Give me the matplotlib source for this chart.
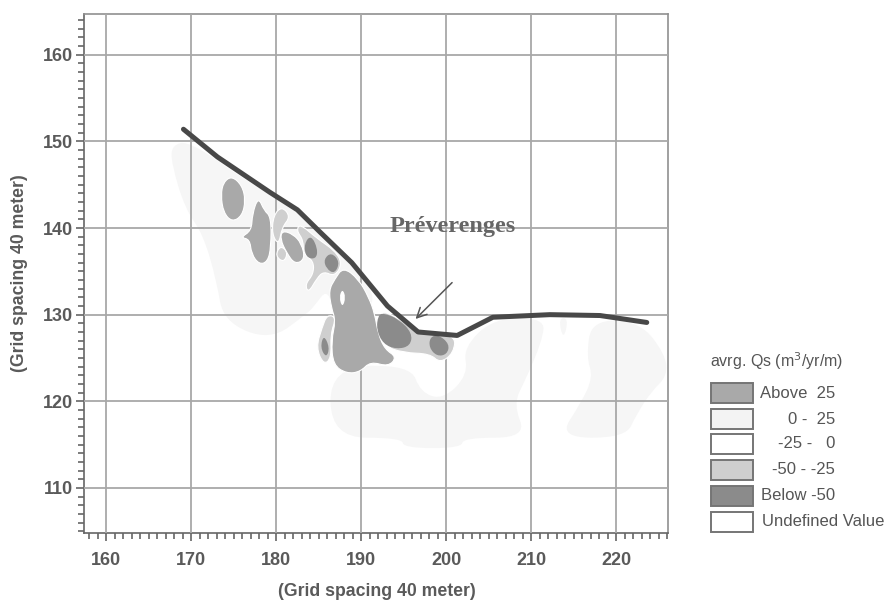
import matplotlib
matplotlib.use('Agg')
import matplotlib.pyplot as plt
from matplotlib.patches import PathPatch, Rectangle
from matplotlib.path import Path
from matplotlib.ticker import MultipleLocator

plt.rcParams['font.family'] = ['Liberation Sans', 'DejaVu Sans']

# Shoreline
shore_x = [169.1, 173.1, 179.3, 182.5, 185.2, 188.9, 193.1, 196.7, 201.3, 205.5, 212.2, 218.1, 223.6]
shore_y = [151.4, 148.2, 144.1, 142.1, 139.5, 136.0, 131.0, 128.0, 127.6, 129.7, 130.0, 129.9, 129.1]

# Contour areas (x, y) per class
qs_0_25 = [
    [(167.7, 149.6), (169.9, 150.0), (176.2, 145.6), (182.0, 142.3), (185.2, 139.6), (188.9, 136.1),
     (192.4, 131.0), (187.0, 130.0), (186.0, 133.0), (184.5, 131.0), (183.6, 130.1), (179.3, 127.0),
     (173.8, 129.2), (173.0, 133.9), (171.4, 139.3), (169.3, 142.2), (167.7, 147.4)],
    [(186.3, 124.0), (195.8, 124.2), (197.0, 121.0), (199.7, 120.2), (202.6, 123.1), (202.0, 126.2),
     (205.6, 129.6), (211.6, 129.6), (211.3, 127.0), (209.3, 122.4), (207.9, 119.7), (209.5, 115.8),
     (202.0, 115.8), (201.8, 114.6), (195.0, 114.6), (194.8, 115.8), (186.5, 115.8)],
    [(217.1, 129.4), (222.8, 129.2), (225.8, 125.4), (226.0, 122.9), (224.2, 121.2), (222.4, 118.5),
     (221.1, 115.8), (213.2, 115.8), (215.8, 119.7), (217.3, 122.8), (216.5, 125.1)],
    [(213.2, 129.6), (214.4, 129.6), (213.8, 127.0)],
]
qs_m50_m25 = [
    [(182.8, 140.5), (184.8, 138.8), (186.9, 137.4), (187.8, 135.9), (186.9, 134.4), (185.6, 135.0),
     (184.8, 134.2), (183.8, 132.5), (183.4, 133.5), (184.4, 134.7), (184.4, 136.2), (183.2, 137.0),
     (183.2, 138.6), (182.4, 139.7)],
    [(192.0, 130.4), (193.8, 130.0), (196.5, 128.0), (201.1, 127.7), (200.9, 125.6), (199.3, 124.4),
     (198.1, 125.5), (195.0, 125.6), (192.6, 126.4)],
    [(186.0, 130.0), (187.1, 129.7), (186.4, 127.8), (186.5, 125.0), (185.6, 124.2), (184.7, 126.2),
     (185.4, 128.5)],
    [(180.7, 142.5), (181.7, 141.3), (180.7, 140.1), (180.3, 138.0), (179.5, 139.3), (179.7, 141.5)],
    [(180.5, 138.0), (181.4, 137.2), (180.9, 136.0), (179.9, 136.8)],
]
qs_above = [
    [(174.8, 146.0), (176.0, 144.9), (176.4, 143.2), (176.0, 141.4), (174.8, 140.7), (173.8, 141.8),
     (173.5, 143.8), (173.8, 145.3)],
    [(177.9, 143.6), (178.6, 142.0), (179.4, 141.3), (179.4, 137.8), (179.0, 136.1), (178.0, 135.8),
     (177.1, 137.0), (176.9, 138.7), (175.8, 138.9), (177.1, 139.7), (177.2, 141.6)],
    [(180.7, 139.7), (182.0, 139.3), (183.0, 138.2), (183.4, 136.4), (182.2, 135.8), (181.2, 137.2),
     (180.5, 138.7)],
    [(187.9, 135.5), (189.7, 134.1), (190.9, 132.0), (191.6, 130.1), (192.0, 127.8), (192.8, 126.0),
     (194.2, 125.1), (193.2, 124.0), (191.1, 124.6), (189.9, 123.4), (188.3, 123.2), (186.7, 124.2),
     (186.5, 127.0), (187.0, 129.3), (186.5, 130.8), (186.2, 132.8), (186.9, 134.1)],
]
qs_below = [
    [(184.1, 139.2), (184.9, 137.6), (184.7, 136.4), (183.5, 136.6), (183.3, 138.2)],
    [(186.5, 137.2), (187.5, 136.1), (186.9, 134.7), (185.9, 135.3), (185.6, 136.4)],
    [(192.6, 130.2), (194.4, 129.5), (196.0, 127.9), (195.8, 126.4), (194.2, 126.0), (192.6, 126.6),
     (191.8, 128.3), (192.0, 129.9)],
    [(199.1, 127.7), (200.4, 126.6), (200.1, 125.4), (198.9, 125.2), (198.0, 126.2), (198.1, 127.4)],
    [(185.6, 127.7), (186.3, 126.2), (185.9, 125.0), (185.2, 126.2)],
]
qs_hole = [(187.8, 133.0), (188.2, 132.0), (187.8, 130.8), (187.4, 132.0)]

legend_labels = ['Above  25', '0 -  25', '-25 -   0', '-50 - -25', 'Below -50', 'Undefined Value']
legend_colors = ['#a9a9a9', '#f3f3f3', '#ffffff', '#cfcfcf', '#8b8b8b', '#ffffff']
x_ticks = [160, 170, 180, 190, 200, 210, 220]
y_ticks = [110, 120, 130, 140, 150, 160]

W, H = 885, 604
fig = plt.figure(figsize=(W / 100, H / 100), dpi=100)
ax = fig.add_axes([84 / W, 1 - 533 / H, 584 / W, 519 / H])
ax.set_xlim(157.4, 226.1)
ax.set_ylim(104.8, 164.7)

# rounded outline: the listed points act as quadratic control points
def blob(pts):
    n = len(pts)
    mid = [((pts[i][0] + pts[(i + 1) % n][0]) / 2, (pts[i][1] + pts[(i + 1) % n][1]) / 2) for i in range(n)]
    verts = [mid[-1]]
    codes = [Path.MOVETO]
    for i in range(n):
        verts += [pts[i], mid[i]]
        codes += [Path.CURVE3, Path.CURVE3]
    return Path(verts, codes)

def fill(areas, color, edge='none', lw=0, z=2):
    for a in areas:
        ax.add_patch(PathPatch(blob(a), facecolor=color, edgecolor=edge, lw=lw, zorder=z))

fill(qs_0_25, '#f6f6f6', z=1)
fill(qs_m50_m25, '#cfcfcf', '#ffffff', 0.8, z=3)
fill(qs_above, '#a9a9a9', '#ffffff', 0.8, z=3)
fill(qs_below, '#8b8b8b', z=4)
fill([qs_hole], '#ffffff', z=4)

ax.set_xticks(x_ticks)
ax.set_yticks(y_ticks)
ax.xaxis.set_minor_locator(MultipleLocator(1))
ax.yaxis.set_minor_locator(MultipleLocator(1))
ax.grid(True, which='major', color='#a8a8a8', lw=1.3)
ax.set_axisbelow(False)
for g in ax.get_xgridlines() + ax.get_ygridlines():
    g.set_zorder(5)
ax.tick_params(which='major', direction='out', length=6, width=1.2, color='#666666', labelsize=13,
               labelcolor='#5a5a5a')
ax.tick_params(axis='x', which='major', pad=8)
ax.tick_params(axis='y', which='major', pad=2)
ax.tick_params(which='minor', direction='out', length=4, width=1.2, color='#666666')
for lab in ax.get_xticklabels() + ax.get_yticklabels():
    lab.set_fontweight('bold')
for s in ax.spines.values():
    s.set_color('#909090')
    s.set_linewidth(1.2)
ax.spines['bottom'].set_color('#666666')
ax.spines['left'].set_color('#666666')

ax.plot(shore_x, shore_y, color='#484848', lw=3.6, solid_capstyle='round', solid_joinstyle='round', zorder=6)

ax.text(193.4, 140.2, 'Préverenges', family=['Liberation Serif'], fontweight='bold', fontsize=17.5,
        color='#666666', va='center', ha='left', zorder=7)
ax.annotate('', xy=(196.4, 129.5), xytext=(200.7, 133.7),
            arrowprops=dict(arrowstyle='->,head_length=0.7,head_width=0.35', color='#555555', lw=1.1,
                            shrinkA=0, shrinkB=0), zorder=7)

fig.text(377 / W, 1 - 592 / H, '(Grid spacing 40 meter)', fontsize=12.7, fontweight='bold', color='#5a5a5a',
         ha='center', va='center')
fig.text(20 / W, 1 - 273 / H, '(Grid spacing 40 meter)', fontsize=12.7, fontweight='bold', color='#5a5a5a',
         rotation=90, ha='center', va='center')

# Legend, laid out in pixels
lg = fig.add_axes([0, 0, 1, 1], facecolor='none')
lg.set_xlim(0, W)
lg.set_ylim(H, 0)
lg.axis('off')
lg.text(710, 361, 'avrg. Qs (m$^3$/yr/m)', fontsize=11.5, color='#555555', va='center', ha='left')
box_tops = [383, 409, 434, 460, 486, 512]
for top, c, label in zip(box_tops, legend_colors, legend_labels):
    lg.add_patch(Rectangle((710.5, top), 42, 20, facecolor=c, edgecolor='#757575', lw=1.4))
    if label.startswith('Undefined'):
        lg.text(762, top + 10, label, fontsize=12, color='#555555', va='center', ha='left')
    else:
        lg.text(835, top + 10, label, fontsize=12, color='#555555', va='center', ha='right')

fig.savefig('out.png', dpi=100)
